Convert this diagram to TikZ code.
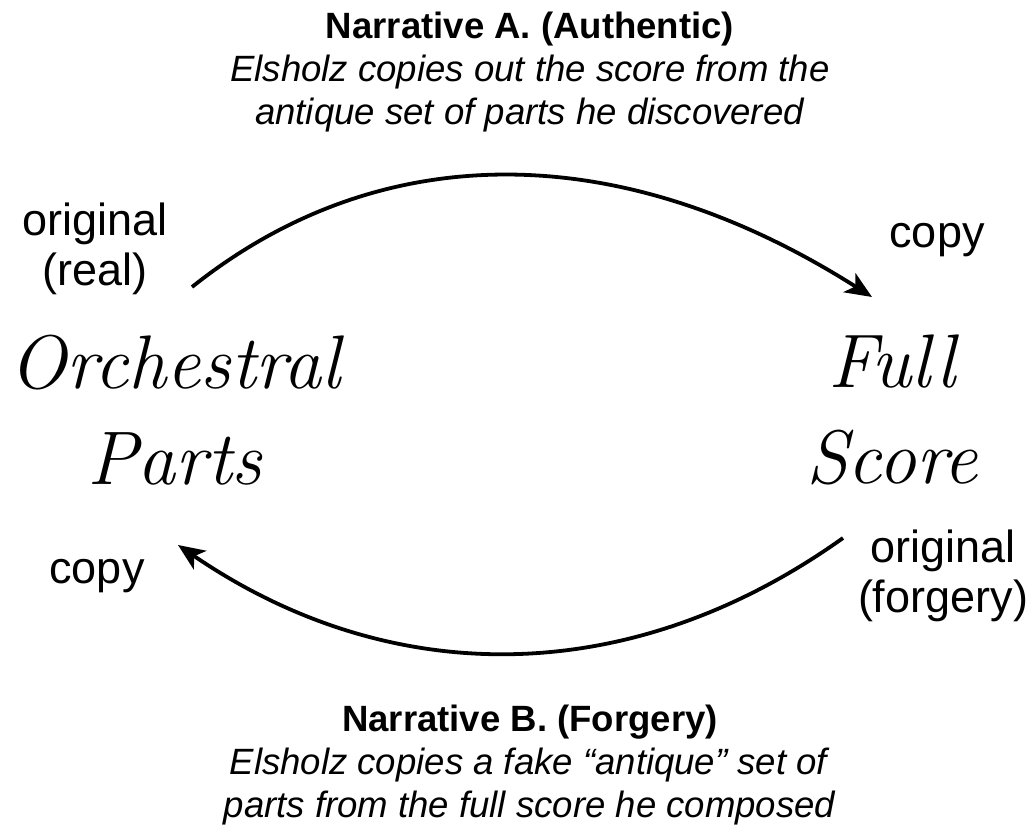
\documentclass[tikz,border=0pt]{standalone}
\usepackage{fontspec}
\setsansfont{Liberation Sans}
\renewcommand{\familydefault}{\sfdefault}
\usetikzlibrary{arrows.meta}

\tikzset{
  hand/.style={font=\rmfamily\itshape\fontsize{54}{68}\selectfont,align=center,inner sep=0pt},
  tag/.style={font=\fontsize{32}{36}\selectfont,align=center,inner sep=0pt},
  story/.style={font=\fontsize{26}{30.5}\selectfont,align=center,inner sep=0pt},
  flow/.style={line width=2.7pt,-{Stealth[length=19pt,width=16pt,inset=5pt]}}
}

\begin{document}
\begin{tikzpicture}[x=0.025cm,y=-0.025cm]
  \useasboundingbox (0,0) rectangle (1031,830);
  % the two documents
  \node[hand]   (parts)     at (175,410) {Orchestral\\Parts};
  \node[hand]   (score)     at (892,410) {Full\\Score};
  % labels at the ends of the arrows
  \node[tag]    (origA)     at (95,249)  {original\\(real)};
  \node[tag]    (copyA)     at (937,240) {copy};
  \node[tag]    (origB)     at (943,576) {original\\(forgery)};
  \node[tag]    (copyB)     at (97,576)  {copy};
  % the two narratives
  \node[story]  (storyA)    at (530,72)  {\textbf{Narrative A. (Authentic)}\\
    \textit{Elsholz copies out the score from the}\\
    \textit{antique set of parts he discovered}};
  \node[story]  (storyB)    at (530,765) {\textbf{Narrative B. (Forgery)}\\
    \textit{Elsholz copies a fake ``antique'' set of}\\
    \textit{parts from the full score he composed}};
  % arrow ends
  \coordinate (a0) at (192,287);
  \coordinate (a1) at (872,297);
  \coordinate (b0) at (843,538);
  \coordinate (b1) at (178,545);
  \draw[flow] (a0) .. controls (380,137) and (620,137) .. (a1);
  \draw[flow] (b0) .. controls (630,690) and (390,690) .. (b1);
\end{tikzpicture}
\end{document}
